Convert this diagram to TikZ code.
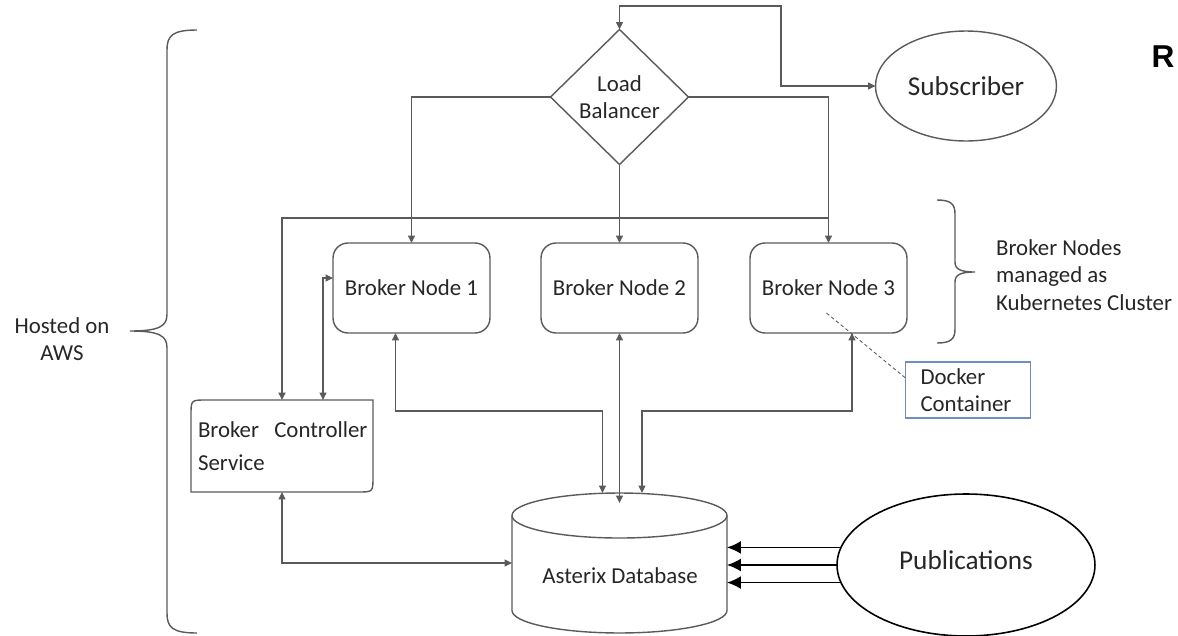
\documentclass[tikz,border=0pt]{standalone}
\usepackage{fontspec}
\setmainfont{Carlito}
\newfontfamily\headfont{Liberation Sans}
\usepackage{tikz}
\usetikzlibrary{calc}
\usetikzlibrary{shapes.geometric}
\usetikzlibrary{arrows.meta}

\definecolor{linegray}{RGB}{90,90,90}
\definecolor{dockerblue}{RGB}{110,140,200}

\tikzset{
    line/.style={draw=linegray, line width=0.8pt},
    link/.style={line, -{Triangle[length=1.5mm,width=1.4mm]}},
    twolink/.style={line, {Triangle[length=1.5mm,width=1.4mm]}-{Triangle[length=1.5mm,width=1.4mm]}},
    publink/.style={draw=black, line width=0.9pt, -{Latex[length=2.8mm,width=2.6mm]}},
    txt/.style={text=black!85, font=\fontsize{13}{15.5}\selectfont},
    brokerbox/.style={txt, line, rounded corners=0.3cm, minimum width=3.14cm,
        minimum height=1.8cm, outer sep=0pt},
}

\begin{document}
\begin{tikzpicture}[x=0.02cm, y=-0.02cm]
        \useasboundingbox (0,0) rectangle (1178,636);

        % Load balancer and subscriber
        \node[diamond, line, txt, font=\fontsize{13}{15}\selectfont, align=center,
            minimum width=2.76cm, minimum height=2.7cm, inner sep=0pt, outer sep=0pt]
            (lb) at (619.5,97) {Load\\Balancer};
        \node[ellipse, line, txt, font=\fontsize{15.5}{18}\selectfont,
            minimum width=3.6cm, minimum height=2.2cm, outer sep=0pt]
            (sub) at (966,86) {Subscriber};
        \node[font=\headfont\bfseries\fontsize{18}{20}\selectfont] (rmark) at (1163,57) {R};

        % The broker nodes
        \node[brokerbox] (bn1) at (411.5,288) {Broker Node 1};
        \node[brokerbox] (bn2) at (619.5,288) {Broker Node 2};
        \node[brokerbox] (bn3) at (828.5,288) {Broker Node 3};

        % Controller box, two corners rounded only
        \node[txt, font=\fontsize{13}{18.8}\selectfont, minimum width=3.6cm, minimum height=1.84cm,
            text width=3.36cm, inner xsep=0.14cm, align=left, outer sep=0pt]
            (bcs) at (282,446) {\mbox{Broker\ \ Controller}\\Service};
        \draw[line] (bcs.north east) -- ([xshift=0.3cm]bcs.north west)
            .. controls (bcs.north west) .. ([yshift=-0.3cm]bcs.north west)
            -- (bcs.south west) -- ([xshift=-0.3cm]bcs.south east)
            .. controls (bcs.south east) .. ([yshift=0.3cm]bcs.south east) -- cycle;

        % The database cylinder
        \node[minimum width=4.3cm, minimum height=2.8cm, outer sep=0pt] (db) at (619.5,563) {};
        \draw[line] ($(db.north)+(0,22.5)$) ellipse [x radius=2.15cm, y radius=0.45cm];
        \draw[line] ($(db.north west)+(0,22.5)$) -- ($(db.south west)+(0,-22.5)$)
            arc[start angle=180, end angle=360, x radius=2.15cm, y radius=0.45cm]
            -- ($(db.north east)+(0,22.5)$);
        \node[txt] (dbtext) at (620,576) {Asterix Database};

        % Publications
        \node[ellipse, draw=black, line width=0.9pt, txt, font=\fontsize{15.5}{18}\selectfont,
            minimum width=5.16cm, minimum height=2.84cm, outer sep=0pt]
            (pub) at (966,565) {\raisebox{0.2cm}{Publications}};

        % Docker note
        \node[txt, draw=dockerblue, line width=0.6pt, minimum width=2.48cm, minimum height=1.12cm,
            text width=1.9cm, align=left, inner xsep=0.3cm, outer sep=0pt]
            (docker) at (968,390) {Docker\\Container};
        \draw[linegray, line width=0.5pt, dash pattern=on 2pt off 1.5pt]
            ($(bn3.center)+(-2,25)$) -- ($(docker.west)+(0,-12)$);

        % Load balancer links
        \draw[twolink] (lb.north) |- (781,6) |- (sub.west);
        \draw[link] (lb.west) -| (bn1.north);
        \draw[link] (lb.south) -- (bn2.north);
        \draw[link] (lb.east) -| (bn3.north);
        \draw[link, line width=1pt] ($(bn3.north)+(0,-25)$) -| (bcs.north);

        % Links down to the database
        \draw[twolink] ($(bcs.north)+(41,0)$) |- ($(bn1.west)+(0,-10)$);
        \draw[twolink] (bcs.south) |- (db.west);
        \draw[twolink] ($(bn1.south)+(-16,0)$) |- ($(db.north)+(-17,-82)$) -- ($(db.north)+(-17,0)$);
        \draw[twolink] (bn2.south) -- ($(db.north)+(0,10)$);
        \draw[twolink] ($(bn3.south)+(23.5,0)$) |- ($(db.north)+(22.5,-82)$) -- ($(db.north)+(22.5,0)$);

        % Publications into the database
        \draw[publink] (pub.172) -- (pub.172 -| db.east);
        \draw[publink] (pub.west) -- (pub.west -| db.east);
        \draw[publink] (pub.188) -- (pub.188 -| db.east);

        % The braces and their labels
        \draw[line] (197,30) .. controls (172,30) and (167,36) .. (167,50) -- (167,314)
            .. controls (167,326) and (160,331) .. (130,331)
            .. controls (160,331) and (167,336) .. (167,348) -- (167,613)
            .. controls (167,627) and (172,633) .. (197,633);
        \node[txt, align=center] (aws) at (62,339) {Hosted on\\AWS};
        \draw[line] (937,200) .. controls (951,200) and (955,204) .. (955,214) -- (955,262)
            .. controls (955,269) and (960,272) .. (975,272)
            .. controls (960,272) and (955,275) .. (955,282) -- (955,329)
            .. controls (955,339) and (951,343) .. (937,343);
        \node[txt, align=left, anchor=west] (k8s) at (990,275) {Broker Nodes\\managed as\\Kubernetes Cluster};
    \end{tikzpicture}
\end{document}
